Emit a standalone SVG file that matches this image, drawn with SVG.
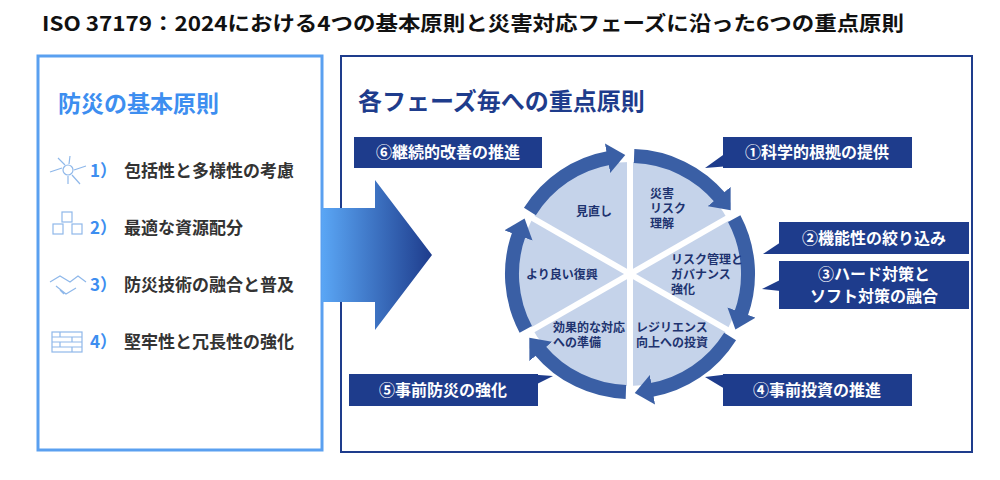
<svg xmlns="http://www.w3.org/2000/svg" width="1000" height="480" viewBox="0 0 1000 480">
<style>
text{font-family:"Noto Sans CJK JP","Noto Sans",sans-serif}
.box{fill:#1e3c8c}
.bt{fill:#fff;font-size:16px;font-weight:bold}
.in{fill:#1e3370;font-size:12px;font-weight:bold}
.it{fill:#333;font-size:17px;font-weight:bold}
.num{fill:#3d8ef0;font-size:17px;font-weight:bold}
.arc{fill:none;stroke:#3a5fa5;stroke-width:14}
.ic{fill:none;stroke:#8fb8ea;stroke-width:1.2}
</style>
<defs>
<marker id="ah" markerUnits="userSpaceOnUse" markerWidth="24" markerHeight="30" refX="2" refY="15" orient="auto"><path d="M0,0 L18,15 L0,30 z" fill="#3a5fa5"/></marker>
<linearGradient id="g" x1="0" x2="1" y1="0" y2="0"><stop offset="0" stop-color="#5aa6f5"/><stop offset="1" stop-color="#1e3c8c"/></linearGradient>
</defs>
<rect width="1000" height="480" fill="#fff"/>
<text x="42" y="31" font-size="20" font-weight="bold" fill="#111" textLength="862" lengthAdjust="spacingAndGlyphs">ISO 37179：2024における4つの基本原則と災害対応フェーズに沿った6つの重点原則</text>
<g id="left">
<rect x="38" y="56" width="284" height="394" fill="#fff" stroke="#5aa0f0" stroke-width="3"/>
<text x="58" y="112" font-size="23" font-weight="bold" fill="#3d8ef0">防災の基本原則</text>
<g class="ic"><circle cx="68" cy="170" r="5"/><path d="M50,172 L62,168 M86,166 L74,170 M58,158 L65,165 M80,184 L72,175 M68,184 L68,176 M70,156 L69,164"/></g>
<g class="ic"><rect x="62" y="212" width="10" height="10"/><rect x="53" y="224" width="10" height="10"/><rect x="72" y="224" width="10" height="10"/></g>
<g class="ic"><path d="M50,282 L60,276 L70,282 L78,276 L86,282 M56,286 L66,294 L76,288 M60,290 L64,294"/></g>
<g class="ic"><rect x="52" y="332" width="30" height="20"/><path d="M52,337 H82 M52,342 H82 M52,347 H82 M60,332 V337 M72,337 V342 M60,342 V347 M72,347 V352"/></g>
<text x="90" y="177" class="num">1）</text><text x="124" y="177" class="it">包括性と多様性の考慮</text>
<text x="90" y="234" class="num">2）</text><text x="124" y="234" class="it">最適な資源配分</text>
<text x="90" y="291" class="num">3）</text><text x="124" y="291" class="it">防災技術の融合と普及</text>
<text x="90" y="348" class="num">4）</text><text x="124" y="348" class="it">堅牢性と冗長性の強化</text>
</g>
<g id="right">
<rect x="341" y="56" width="631" height="396" fill="#fff" stroke="#1e3c8c" stroke-width="2"/>
<text x="358" y="110" font-size="24" font-weight="bold" fill="#1e3c8c">各フェーズ毎への重点原則</text>
</g>
<g id="bigarrow"><path d="M322,208 H375 V180 L432,255 L375,330 V302 H322 z" fill="url(#g)"/></g>
<g id="cycle">
<ellipse cx="630" cy="274" rx="112" ry="112" fill="#c5d3ea"/>
</g>
<g id="connectors">
<path class="arc" d="M634.1,156.1 A118,118 0 0 1 720.4,198.1" marker-end="url(#ah)"/>
<path class="arc" d="M734.2,218.6 A118,118 0 0 1 740.9,314.4" marker-end="url(#ah)"/>
<path class="arc" d="M730.1,336.5 A118,118 0 0 1 650.5,390.2" marker-end="url(#ah)"/>
<path class="arc" d="M625.9,391.9 A118,118 0 0 1 539.6,349.9" marker-end="url(#ah)"/>
<path class="arc" d="M525.8,329.4 A118,118 0 0 1 519.1,233.6" marker-end="url(#ah)"/>
<path class="arc" d="M529.9,211.5 A118,118 0 0 1 609.5,157.8" marker-end="url(#ah)"/>
<g stroke="#fff" stroke-width="6"><line x1="630" y1="142" x2="630" y2="406"/><line x1="745" y1="208" x2="515" y2="340"/><line x1="745" y1="340" x2="515" y2="208"/></g>
<path d="M520,166 L542,150 L542,166 z M730,150 L730,166 L705,168 z M790,236 L790,254 L763,254 z M790,275 L790,292 L762,289 z M730,374 L730,392 L705,377 z M525,374 L525,390 L553,376 z" fill="#1e3c8c"/>
</g>
<g id="labels">
<text x="650" y="198" class="in">災害</text><text x="650" y="213" class="in">リスク</text><text x="650" y="228" class="in">理解</text>
<text x="576" y="216" class="in">見直し</text>
<text x="526" y="279" class="in">より良い復興</text>
<text x="671" y="264" class="in">リスク管理と</text><text x="671" y="279" class="in">ガバナンス</text><text x="671" y="294" class="in">強化</text>
<text x="553" y="332" class="in">効果的な対応</text><text x="553" y="347" class="in">への準備</text>
<text x="636" y="332" class="in">レジリエンス</text><text x="636" y="347" class="in">向上への投資</text>
</g>
<g id="c6"><rect x="354" y="137" width="188" height="31" class="box"/><text x="448" y="158" class="bt" text-anchor="middle">⑥継続的改善の推進</text></g>
<g id="c1"><rect x="723" y="137" width="189" height="31" class="box"/><text x="817" y="158" class="bt" text-anchor="middle">①科学的根拠の提供</text></g>
<g id="c2"><rect x="779" y="222" width="190" height="32" class="box"/><text x="874" y="244" class="bt" text-anchor="middle">②機能性の絞り込み</text></g>
<g id="c3"><rect x="779" y="261" width="190" height="48" class="box"/><text x="874" y="280" class="bt" text-anchor="middle" font-size="15">③ハード対策と</text><text x="874" y="302" class="bt" text-anchor="middle" font-size="15">ソフト対策の融合</text></g>
<g id="c4"><rect x="723" y="374" width="189" height="32" class="box"/><text x="817" y="396" class="bt" text-anchor="middle">④事前投資の推進</text></g>
<g id="c5"><rect x="349" y="374" width="189" height="32" class="box"/><text x="443" y="396" class="bt" text-anchor="middle">⑤事前防災の強化</text></g>
</svg>
